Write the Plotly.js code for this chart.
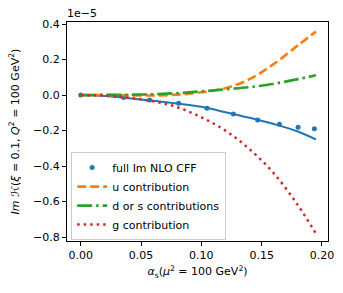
<!DOCTYPE html>
<html>
<head>
<meta charset="utf-8">
<script src="https://cdn.plot.ly/plotly-3.0.1.min.js"></script>
<style>html,body{margin:0;padding:0;background:#fff;}#chart{width:343px;height:293px;}</style>
</head>
<body>
<div id="chart"></div>
<script>
// values in units of 1e-5
const pointAlpha = [0, 0.0356, 0.0571, 0.0812, 0.1047, 0.1265, 0.1467, 0.1647, 0.1802, 0.1937];
const pointFull  = [0, -0.014, -0.027, -0.046, -0.074, -0.106, -0.140, -0.164, -0.181, -0.189];

const lineAlpha = [0, 0.02, 0.04, 0.06, 0.08, 0.10, 0.12, 0.14, 0.16, 0.18, 0.195];
const fullLine  = [0, -0.005, -0.017, -0.032, -0.047, -0.066, -0.096, -0.128, -0.163, -0.205, -0.250];
const uContr    = [0, 0, -0.001, -0.002, 0.003, 0.016, 0.039, 0.090, 0.175, 0.280, 0.358];
const dsContr   = [0, 0.001, 0.002, 0.005, 0.011, 0.021, 0.033, 0.045, 0.064, 0.090, 0.112];
const gContr    = [0, -0.003, -0.015, -0.035, -0.068, -0.125, -0.200, -0.305, -0.440, -0.620, -0.780];

const FONT = 'DejaVu Sans, sans-serif';

const traces = [
  {x: lineAlpha, y: fullLine, mode: 'lines', line: {color: '#1f77b4', width: 2, shape: 'spline'}, showlegend: false, hoverinfo: 'skip'},
  {x: pointAlpha, y: pointFull, mode: 'markers', name: 'full Im NLO CFF', marker: {color: '#1f77b4', size: 5, symbol: 'circle'}},
  {x: lineAlpha, y: uContr, mode: 'lines', name: 'u contribution', line: {color: '#ff7f0e', width: 2.7, dash: '9px,4px', shape: 'spline'}},
  {x: lineAlpha, y: dsContr, mode: 'lines', name: 'd or s contributions', line: {color: '#2ca02c', width: 2.7, dash: '15px,4px,2.5px,4px', shape: 'spline'}},
  {x: lineAlpha, y: gContr, mode: 'lines', name: 'g contribution', line: {color: '#d62728', width: 2.5, dash: '2.5px,4px', shape: 'spline'}}
];

const layout = {
  width: 343, height: 293,
  margin: {l: 67, r: 15, t: 22, b: 52, pad: 0},
  paper_bgcolor: '#fff', plot_bgcolor: '#fff',
  font: {family: FONT, size: 11, color: '#000'},
  showlegend: true,
  legend: {x: 0.016, y: 0.004, xanchor: 'left', yanchor: 'bottom', bgcolor: 'rgba(255,255,255,0.8)', bordercolor: '#cccccc', borderwidth: 1, font: {size: 11}, tracegroupgap: 0},
  xaxis: {
    range: [-0.0114, 0.205], tickvals: [0, 0.05, 0.10, 0.15, 0.20], tickformat: '.2f',
    showgrid: false, zeroline: false, showline: true, mirror: true, linecolor: '#000', linewidth: 1,
    ticks: 'outside', ticklen: 4, tickwidth: 1, tickcolor: '#000',
    title: {text: '<i>α</i><sub>s</sub>(<i>μ</i><sup>2</sup> = 100 GeV<sup>2</sup>)', font: {size: 11}, standoff: 6}
  },
  yaxis: {
    range: [-0.822, 0.412], tickvals: [-0.8, -0.6, -0.4, -0.2, 0, 0.2, 0.4], tickformat: '.1f',
    showgrid: false, zeroline: false, showline: true, mirror: true, linecolor: '#000', linewidth: 1,
    ticks: 'outside', ticklen: 4, tickwidth: 1, tickcolor: '#000',
    title: {text: '<i>Im</i> ℋ(<i>ξ</i> = 0.1, <i>Q</i><sup>2</sup> = 100 GeV<sup>2</sup>)', font: {size: 11}, standoff: 11}
  },
  annotations: [
    {text: '1e−5', xref: 'paper', yref: 'paper', x: 0, y: 1, xanchor: 'left', yanchor: 'bottom', showarrow: false, font: {size: 11}, xshift: -2, yshift: 0}
  ]
};

Plotly.newPlot('chart', traces, layout, {displayModeBar: false, staticPlot: true});
</script>
</body>
</html>
